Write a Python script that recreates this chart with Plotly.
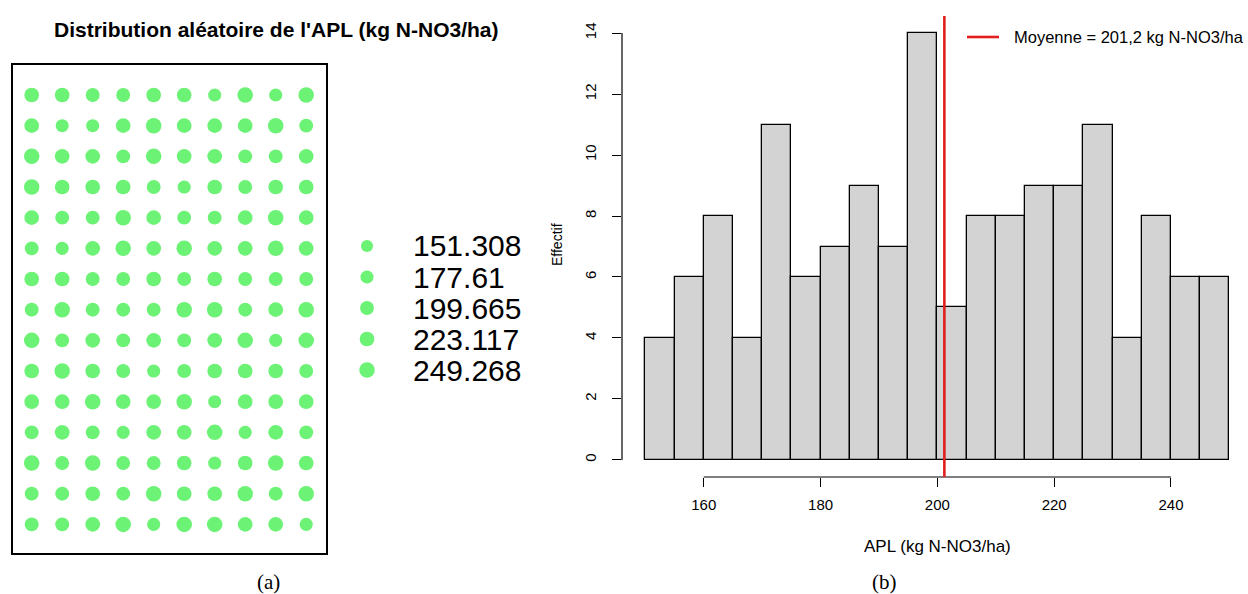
import plotly.graph_objects as go

# ---------------- data ----------------
# Legend break values of the APL map (kg N-NO3/ha)
legend_values = [151.308, 177.61, 199.665, 223.117, 249.268]
legend_labels = ["151.308", "177.61", "199.665", "223.117", "249.268"]

# Class (1..5, index into legend_values) of each plot on the 15 x 10 grid, row by row
apl_class = [
    [4, 4, 3, 3, 4, 4, 2, 5, 2, 5],
    [4, 2, 2, 4, 5, 4, 4, 4, 5, 3],
    [5, 4, 4, 3, 5, 4, 4, 3, 3, 4],
    [5, 4, 4, 4, 3, 2, 4, 3, 4, 4],
    [4, 3, 3, 5, 4, 3, 3, 4, 5, 4],
    [3, 2, 4, 5, 4, 5, 4, 4, 5, 4],
    [4, 4, 3, 3, 4, 3, 4, 3, 3, 3],
    [3, 5, 3, 3, 3, 5, 5, 3, 4, 5],
    [5, 3, 4, 3, 4, 3, 4, 5, 2, 5],
    [4, 5, 4, 3, 2, 3, 4, 4, 4, 3],
    [4, 4, 5, 4, 4, 5, 2, 4, 4, 4],
    [3, 4, 3, 2, 4, 4, 5, 2, 4, 3],
    [5, 3, 5, 3, 3, 4, 2, 4, 5, 4],
    [3, 3, 4, 3, 5, 4, 4, 5, 3, 5],
    [3, 3, 4, 5, 2, 5, 5, 4, 4, 2],
]

# Histogram of APL values
bin_edges = [150, 155, 160, 165, 170, 175, 180, 185, 190, 195, 200,
             205, 210, 215, 220, 225, 230, 235, 240, 245, 250]
counts = [4, 6, 8, 4, 11, 6, 7, 9, 7, 14, 5, 8, 8, 9, 9, 11, 4, 8, 6, 6]
apl_mean = 201.2
x_ticks = [160, 180, 200, 220, 240]
y_ticks = [0, 2, 4, 6, 8, 10, 12, 14]

# ---------------- figure ----------------
W, H = 1248, 594
FONT = "Liberation Sans, Arial, sans-serif"
SERIF = "Liberation Serif, Times New Roman, serif"
DOT = "#6CF275"
MAX_DOT = 15.5


def px_x(p):
    return p / W


def px_y(p):
    return 1 - p / H


def bubble_size(v):
    return MAX_DOT * (v / max(legend_values)) ** 0.5


fig = go.Figure()

# Panel (a): bubble map of the plots
gx, gy, gs = [], [], []
for r, row in enumerate(apl_class):
    for c, k in enumerate(row):
        gx.append(c + 1)
        gy.append(r + 1)
        gs.append(bubble_size(legend_values[k - 1]))
fig.add_trace(go.Scatter(
    x=gx, y=gy, mode="markers", xaxis="x", yaxis="y",
    marker=dict(size=gs, color=DOT, opacity=1, line=dict(width=0)),
    showlegend=False, hoverinfo="skip"))

# Size key of panel (a)
fig.add_trace(go.Scatter(
    x=[0.135] * len(legend_values), y=list(range(len(legend_values))),
    mode="markers", xaxis="x2", yaxis="y2",
    marker=dict(size=[bubble_size(v) for v in legend_values], color=DOT,
                opacity=1, line=dict(width=0)),
    showlegend=False, hoverinfo="skip"))

# Panel (b): histogram
centers = [(a + b) / 2 for a, b in zip(bin_edges[:-1], bin_edges[1:])]
widths = [b - a for a, b in zip(bin_edges[:-1], bin_edges[1:])]
fig.add_trace(go.Bar(
    x=centers, y=counts, width=widths, xaxis="x3", yaxis="y3",
    marker=dict(color="#D3D3D3", line=dict(color="black", width=1.3)),
    showlegend=False, hoverinfo="skip"))

hidden = dict(visible=False, showgrid=False, zeroline=False)

fig.update_layout(
    width=W, height=H,
    margin=dict(l=0, r=0, t=0, b=0, autoexpand=False),
    paper_bgcolor="white", plot_bgcolor="white",
    font=dict(family=FONT, color="black"),
    bargap=0,
    xaxis=dict(domain=[px_x(12.7), px_x(326)], range=[0.377, 10.649], anchor="y",
               showline=True, mirror=True, linecolor="black", linewidth=1.6,
               showgrid=False, zeroline=False, showticklabels=False, ticks=""),
    yaxis=dict(domain=[px_y(553), px_y(65)], range=[15.933, 0.022], anchor="x",
               showline=True, mirror=True, linecolor="black", linewidth=1.6,
               showgrid=False, zeroline=False, showticklabels=False, ticks=""),
    xaxis2=dict(domain=[px_x(340), px_x(540)], range=[0, 1], anchor="y2", **hidden),
    yaxis2=dict(domain=[px_y(385), px_y(231)], range=[4.484, -0.484], anchor="x2",
                **hidden),
    xaxis3=dict(domain=[px_x(622), 1], range=[146, 146 + (W - 622) / 5.84],
                anchor="y3", automargin=False,
                showline=False, showgrid=False, zeroline=False,
                tickvals=x_ticks, ticks="outside", ticklen=9, tickwidth=1,
                tickcolor="black", ticklabelstandoff=5,
                tickfont=dict(size=15, family=FONT)),
    yaxis3=dict(domain=[px_y(477), px_y(16)], range=[-0.56, 14.56],
                anchor="x3", automargin=False,
                showline=False, showgrid=False, zeroline=False,
                tickvals=y_ticks, ticks="outside", ticklen=9, tickwidth=1,
                tickcolor="black", tickangle=-90, ticklabelstandoff=10,
                tickfont=dict(size=15, family=FONT)),
)

shapes = [
    # axis lines spanning first to last tick
    dict(type="line", xref="x3", yref="y3 domain", x0=x_ticks[0], x1=x_ticks[-1],
         y0=0, y1=0, line=dict(color="black", width=1.2)),
    dict(type="line", xref="x3 domain", yref="y3", x0=0, x1=0,
         y0=y_ticks[0], y1=y_ticks[-1], line=dict(color="black", width=1.2)),
    # mean line
    dict(type="line", xref="x3", yref="y3 domain", x0=apl_mean, x1=apl_mean,
         y0=0, y1=1, line=dict(color="#E01E1E", width=2.6)),
    # legend key of the mean line
    dict(type="line", xref="paper", yref="paper", x0=px_x(967), x1=px_x(999),
         y0=px_y(37), y1=px_y(37), line=dict(color="#E01E1E", width=2.6)),
]
fig.update_layout(shapes=shapes)

mean_txt = f"Moyenne = {apl_mean:.1f}".replace(".", ",") + " kg N-NO3/ha"

annotations = [
    dict(text="<b>Distribution aléatoire de l'APL (kg N-NO3/ha)</b>",
         xref="paper", yref="paper", x=px_x(276), y=px_y(30),
         xanchor="center", yanchor="middle", showarrow=False,
         font=dict(size=21, family=FONT)),
    dict(text=mean_txt, xref="paper", yref="paper", x=px_x(1012), y=px_y(37),
         xanchor="left", yanchor="middle", showarrow=False,
         font=dict(size=16.5, family=FONT)),
    dict(text="Effectif", xref="paper", yref="paper", x=px_x(557), y=px_y(245),
         xanchor="center", yanchor="middle", showarrow=False, textangle=-90,
         font=dict(size=14, family=FONT)),
    dict(text="APL (kg N-NO3/ha)", xref="paper", yref="paper",
         x=px_x(937), y=px_y(546), xanchor="center", yanchor="middle",
         showarrow=False, font=dict(size=17, family=FONT)),
    dict(text="(a)", xref="paper", yref="paper", x=px_x(268), y=px_y(582),
         xanchor="center", yanchor="middle", showarrow=False,
         font=dict(size=21, family=SERIF)),
    dict(text="(b)", xref="paper", yref="paper", x=px_x(884), y=px_y(582),
         xanchor="center", yanchor="middle", showarrow=False,
         font=dict(size=21, family=SERIF)),
]
for i, lab in enumerate(legend_labels):
    annotations.append(dict(
        text=lab, xref="x2", yref="y2", x=0.355, y=i,
        xanchor="left", yanchor="middle", showarrow=False,
        font=dict(size=30, family=FONT)))
fig.update_layout(annotations=annotations)

fig.write_html("out.html")
